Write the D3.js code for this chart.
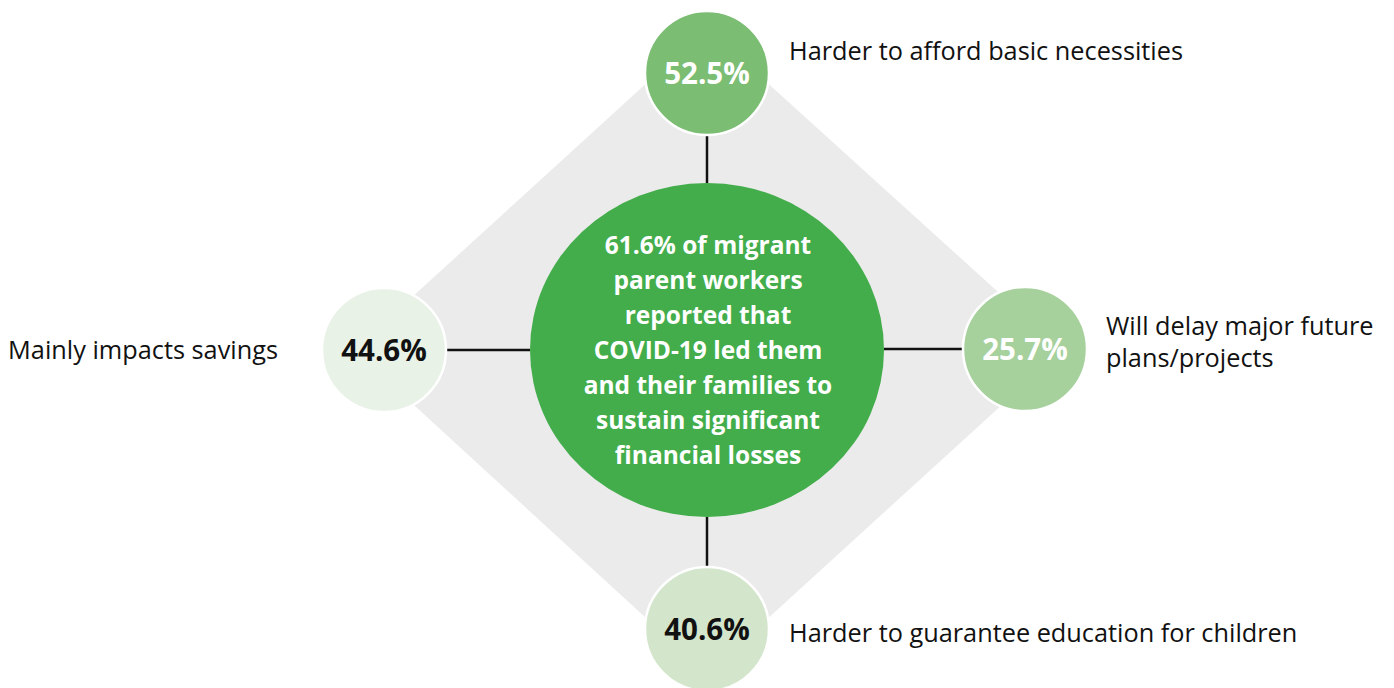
<!DOCTYPE html>
<html>
<head>
<meta charset="utf-8">
<script src="https://cdn.jsdelivr.net/npm/d3@7/dist/d3.min.js"></script>
<style>
  html, body { margin: 0; padding: 0; background: #ffffff; }
  svg { display: block; }
  text { font-family: "Open Sans", "Noto Sans", sans-serif; }
</style>
</head>
<body>
<svg id="chart" width="1394" height="688"></svg>
<script>
// Headline figure shown in the central disc
const headlineValue = 61.6;
const headlineLines = [
  "% of migrant",
  "parent workers",
  "reported that",
  "COVID-19 led them",
  "and their families to",
  "sustain significant",
  "financial losses"
];

// Outcome breakdown, one entry per satellite circle
const positions = ["top", "right", "bottom", "left"];
const outcomeValues = [52.5, 25.7, 40.6, 44.6];
const outcomeLabels = [
  ["Harder to afford basic necessities"],
  ["Will delay major future", "plans/projects"],
  ["Harder to guarantee education for children"],
  ["Mainly impacts savings"]
];
const circleFills = ["#7bbd72", "#a6d09c", "#d3e6cc", "#e8f2e6"];
const valueInk = ["#ffffff", "#ffffff", "#111111", "#111111"];

const svg = d3.select("#chart");
const cx = 707, cy = 350;

// Layout: offsets of each satellite from the centre
const offset = d3.scaleOrdinal()
  .domain(positions)
  .range([[0, -277], [318, -1], [0, 279], [-323, 0]]);

// Grey diamond behind everything
const diamond = [[cx, cy - 322], [cx + 355, cy], [cx, cy + 324], [cx - 353, cy]];
svg.append("path")
  .attr("d", d3.line()(diamond) + "Z")
  .attr("fill", "#ebebeb");

const data = positions.map((p, i) => ({
  pos: p,
  value: outcomeValues[i],
  label: outcomeLabels[i],
  fill: circleFills[i],
  ink: valueInk[i],
  x: cx + offset(p)[0],
  y: cy + offset(p)[1]
}));

const rSat = 62;
const rxC = 177, ryC = 167;

// Connectors from the central disc to each satellite
svg.append("g").selectAll("line")
  .data(data)
  .join("line")
  .attr("x1", d => d.pos === "left" ? d.x + rSat : d.pos === "right" ? d.x - rSat : d.x)
  .attr("y1", d => d.pos === "top" ? d.y + rSat : d.pos === "bottom" ? d.y - rSat : d.y)
  .attr("x2", d => d.pos === "left" ? cx - rxC : d.pos === "right" ? cx + rxC : d.x)
  .attr("y2", d => d.pos === "top" ? cy - ryC : d.pos === "bottom" ? cy + ryC : d.y)
  .attr("stroke", "#111")
  .attr("stroke-width", 2.5);

// Central disc
svg.append("ellipse")
  .attr("cx", cx).attr("cy", cy)
  .attr("rx", rxC).attr("ry", ryC)
  .attr("fill", "#42ad4a");

const lineH = 35;
const firstY = cy - (headlineLines.length - 1) / 2 * lineH + 9;
svg.append("g").selectAll("text")
  .data(headlineLines)
  .join("text")
  .attr("x", cx + 1)
  .attr("y", (d, i) => firstY + i * lineH)
  .attr("text-anchor", "middle")
  .attr("fill", "#ffffff")
  .attr("font-weight", 700)
  .attr("font-size", 24.5)
  .text((d, i) => i === 0 ? d3.format(".1f")(headlineValue) + d : d);

// Satellite circles
const sat = svg.append("g").selectAll("g")
  .data(data)
  .join("g")
  .attr("transform", d => `translate(${d.x},${d.y})`);

sat.append("circle")
  .attr("r", rSat)
  .attr("fill", d => d.fill)
  .attr("stroke", "#ffffff")
  .attr("stroke-width", 2.5);

sat.append("text")
  .attr("y", 10.5)
  .attr("text-anchor", "middle")
  .attr("fill", d => d.ink)
  .attr("font-weight", 700)
  .attr("font-size", 29.5)
  .text(d => d3.format(".1f")(d.value) + "%");

// Category labels beside each satellite
const labelPos = {
  top:    { dx: 82,  dy: -13, anchor: "start" },
  right:  { dx: 81,  dy: -14, anchor: "start" },
  bottom: { dx: 82,  dy: 13,  anchor: "start" },
  left:   { dx: -106, dy: 9,  anchor: "end" }
};

sat.each(function (d) {
  const lp = labelPos[d.pos];
  const t = d3.select(this).append("text")
    .attr("text-anchor", lp.anchor)
    .attr("fill", "#111111")
    .attr("font-size", 25.3);
  t.selectAll("tspan")
    .data(d.label)
    .join("tspan")
    .attr("x", lp.dx)
    .attr("y", (s, i) => lp.dy + i * 32)
    .text(s => s);
});
</script>
</body>
</html>
